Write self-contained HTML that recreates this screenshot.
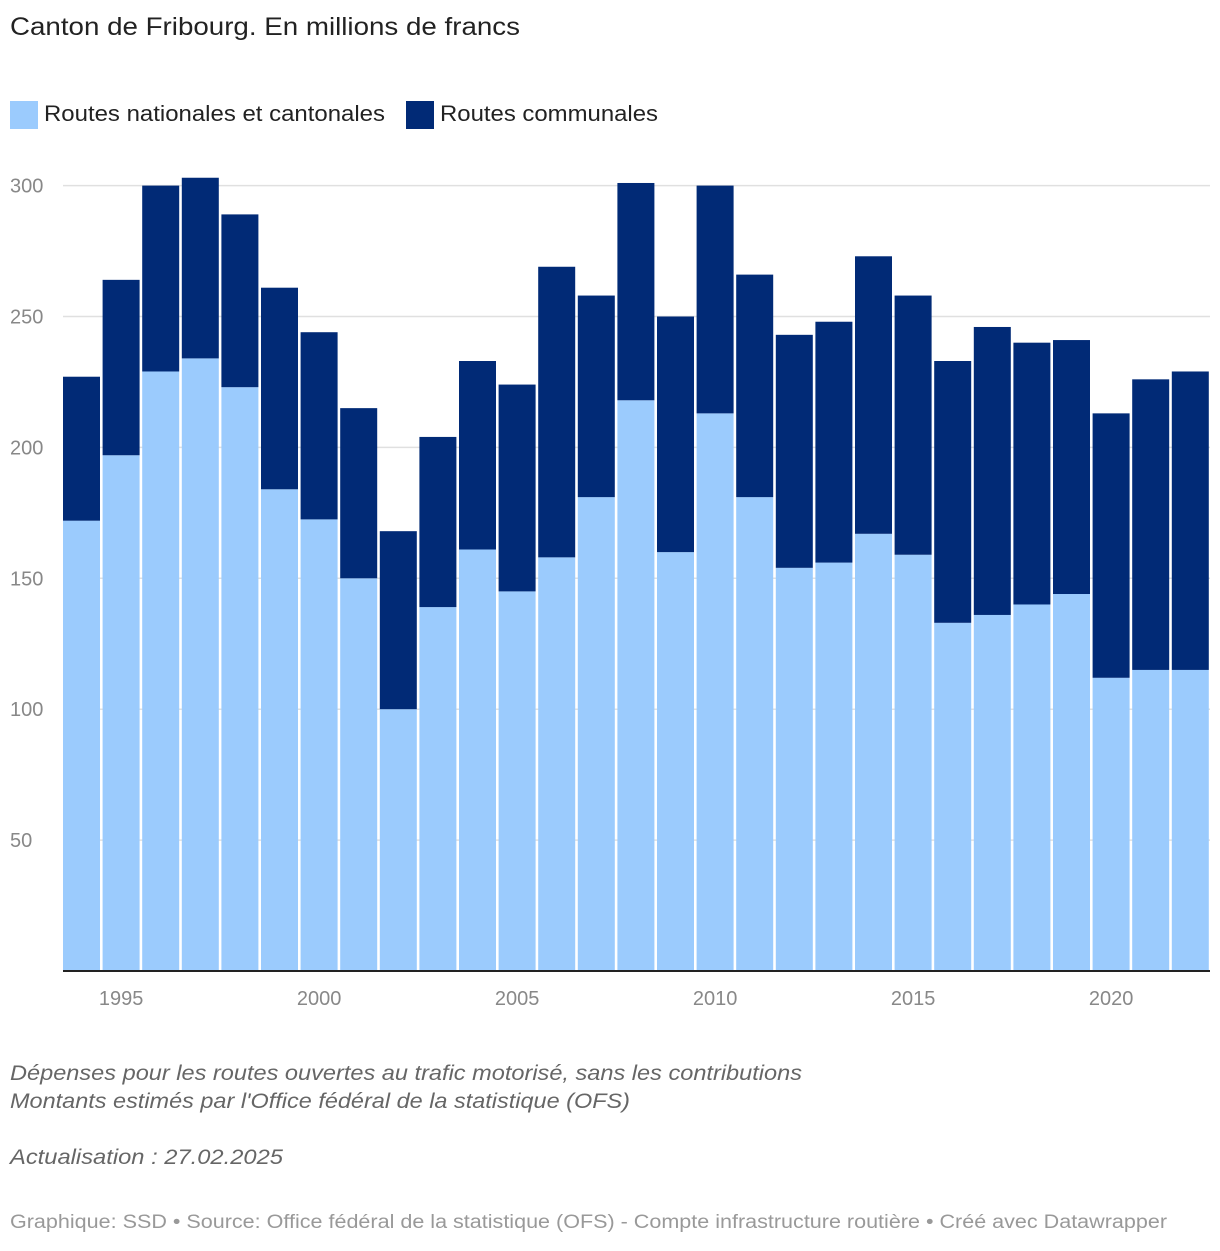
<!DOCTYPE html>
<html><head><meta charset="utf-8">
<style>
body{margin:0;background:#fff;font-family:"Liberation Sans",sans-serif;}
svg text{font-family:"Liberation Sans",sans-serif;}
</style></head>
<body>
<svg id="chart" width="1220" height="1246" xmlns="http://www.w3.org/2000/svg">
<text x="10" y="35" font-size="25" fill="#222" textLength="510" lengthAdjust="spacingAndGlyphs">Canton de Fribourg. En millions de francs</text>
<g>
<rect x="10" y="101" width="28" height="28" fill="#9bcbfd"/>
<text x="44" y="121" font-size="22" fill="#222" textLength="341" lengthAdjust="spacingAndGlyphs">Routes nationales et cantonales</text>
<rect x="406" y="101" width="28" height="28" fill="#012a76"/>
<text x="440" y="121" font-size="22" fill="#222" textLength="218" lengthAdjust="spacingAndGlyphs">Routes communales</text>
</g>
<g id="grid"></g>
<g id="bars"></g>
<g id="xaxis"></g>
<text x="10" y="1080" font-size="21" font-style="italic" fill="#666" textLength="792" lengthAdjust="spacingAndGlyphs">Dépenses pour les routes ouvertes au trafic motorisé, sans les contributions</text>
<text x="10" y="1108" font-size="21" font-style="italic" fill="#666" textLength="620" lengthAdjust="spacingAndGlyphs">Montants estimés par l'Office fédéral de la statistique (OFS)</text>
<text x="10" y="1164" font-size="21" font-style="italic" fill="#666" textLength="273" lengthAdjust="spacingAndGlyphs">Actualisation : 27.02.2025</text>
<text x="10" y="1228" font-size="19" fill="#999" textLength="1157" lengthAdjust="spacingAndGlyphs">Graphique: SSD • Source: Office fédéral de la statistique (OFS) - Compte infrastructure routière • Créé avec Datawrapper</text>
</svg>
<script>
const years=[1994,1995,1996,1997,1998,1999,2000,2001,2002,2003,2004,2005,2006,2007,2008,2009,2010,2011,2012,2013,2014,2015,2016,2017,2018,2019,2020,2021,2022];
const cantonal=[172,197,229,234,223,184,172.5,150,100,139,161,145,158,181,218,160,213,181,154,156,167,159,133,136,140,144,112,115,115];
const communal=[55,67,71,69,66,77,71.5,65,68,65,72,79,111,77,83,90,87,85,89,92,106,99,100,110,100,97,101,111,114];
const yTicks=[50,100,150,200,250,300];
const xTickYears=[1995,2000,2005,2010,2015,2020];
const NS="http://www.w3.org/2000/svg";
const svg=document.getElementById('chart');
const y0=971,pxPer=2.618;
const yS=v=>y0-v*pxPer;
const xLeft=63,step=39.6,bw=37;
const xS=yr=>xLeft+(yr-years[0])*step;
function mk(tag,attrs,parent){const e=document.createElementNS(NS,tag);for(const k in attrs)e.setAttribute(k,attrs[k]);parent.appendChild(e);return e;}
const grid=document.getElementById('grid');
yTicks.forEach(t=>{
 const l=mk('line',{x1:63,x2:1210,y1:yS(t),y2:yS(t),stroke:'#e0e0e0','stroke-width':1.5},grid);
 
 
 const tx=mk('text',{x:10,y:yS(t)+7,'font-size':20,fill:'#888'},grid);
 tx.textContent=t;
 
 
});
const bars=document.getElementById('bars');
years.forEach((yr,i)=>{
 const x=xS(yr);
 const a=mk('rect',{x:x,y:yS(cantonal[i]),width:bw,height:cantonal[i]*pxPer,fill:'#9bcbfd'},bars);
 
 
 const tot=cantonal[i]+communal[i];
 const b=mk('rect',{x:x,y:yS(tot),width:bw,height:communal[i]*pxPer,fill:'#012a76'},bars);
 
 
});
const xa=document.getElementById('xaxis');
const base=mk('line',{x1:63,x2:1210,y1:y0,y2:y0,stroke:'#222','stroke-width':2},xa);


xTickYears.forEach(yr=>{
 const t=mk('text',{x:xS(yr)+bw/2,y:1005,'font-size':20,fill:'#888','text-anchor':'middle'},xa);
 t.textContent=yr;
 
 
});
</script>
</body></html>
